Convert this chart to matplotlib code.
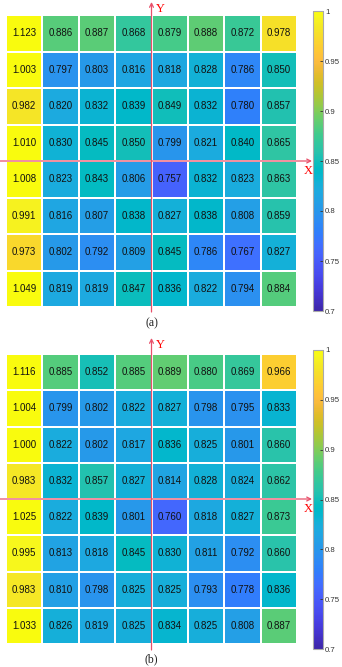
import numpy as np
import matplotlib
matplotlib.use("Agg")
import matplotlib.pyplot as plt
from matplotlib.colors import LinearSegmentedColormap

# ---------------- data ----------------
values_a = [
    [1.123, 0.886, 0.887, 0.868, 0.879, 0.888, 0.872, 0.978],
    [1.003, 0.797, 0.803, 0.816, 0.818, 0.828, 0.786, 0.850],
    [0.982, 0.820, 0.832, 0.839, 0.849, 0.832, 0.780, 0.857],
    [1.010, 0.830, 0.845, 0.850, 0.799, 0.821, 0.840, 0.865],
    [1.008, 0.823, 0.843, 0.806, 0.757, 0.832, 0.823, 0.863],
    [0.991, 0.816, 0.807, 0.838, 0.827, 0.838, 0.808, 0.859],
    [0.973, 0.802, 0.792, 0.809, 0.845, 0.786, 0.767, 0.827],
    [1.049, 0.819, 0.819, 0.847, 0.836, 0.822, 0.794, 0.884],
]
values_b = [
    [1.116, 0.885, 0.852, 0.885, 0.889, 0.880, 0.869, 0.966],
    [1.004, 0.799, 0.802, 0.822, 0.827, 0.798, 0.795, 0.833],
    [1.000, 0.822, 0.802, 0.817, 0.836, 0.825, 0.801, 0.860],
    [0.983, 0.832, 0.857, 0.827, 0.814, 0.828, 0.824, 0.862],
    [1.025, 0.822, 0.839, 0.801, 0.760, 0.818, 0.827, 0.873],
    [0.995, 0.813, 0.818, 0.845, 0.830, 0.811, 0.792, 0.860],
    [0.983, 0.810, 0.798, 0.825, 0.825, 0.793, 0.778, 0.836],
    [1.033, 0.826, 0.819, 0.825, 0.834, 0.825, 0.808, 0.887],
]
captions = ["(a)", "(b)"]
cbar_ticks = [0.7, 0.75, 0.8, 0.85, 0.9, 0.95, 1.0]
cbar_ticklabels = ["0.7", "0.75", "0.8", "0.85", "0.9", "0.95", "1"]
vmin, vmax = 0.7, 1.0

# parula colormap
parula_data = [
    [0.2422, 0.1504, 0.6603], [0.2504, 0.1650, 0.7076], [0.2578, 0.1818, 0.7511],
    [0.2647, 0.1978, 0.7952], [0.2706, 0.2147, 0.8364], [0.2751, 0.2342, 0.8710],
    [0.2783, 0.2559, 0.8991], [0.2803, 0.2782, 0.9221], [0.2813, 0.3006, 0.9414],
    [0.2810, 0.3228, 0.9579], [0.2795, 0.3447, 0.9717], [0.2760, 0.3667, 0.9829],
    [0.2699, 0.3892, 0.9906], [0.2602, 0.4123, 0.9952], [0.2440, 0.4358, 0.9988],
    [0.2206, 0.4603, 0.9973], [0.1963, 0.4847, 0.9892], [0.1834, 0.5074, 0.9798],
    [0.1786, 0.5289, 0.9682], [0.1764, 0.5499, 0.9520], [0.1687, 0.5703, 0.9359],
    [0.1540, 0.5902, 0.9218], [0.1460, 0.6091, 0.9079], [0.1380, 0.6276, 0.8973],
    [0.1248, 0.6459, 0.8883], [0.1113, 0.6635, 0.8763], [0.0952, 0.6798, 0.8598],
    [0.0689, 0.6948, 0.8394], [0.0297, 0.7082, 0.8163], [0.0036, 0.7203, 0.7917],
    [0.0067, 0.7312, 0.7660], [0.0433, 0.7411, 0.7394], [0.0964, 0.7500, 0.7120],
    [0.1408, 0.7584, 0.6842], [0.1717, 0.7670, 0.6554], [0.1938, 0.7758, 0.6251],
    [0.2161, 0.7843, 0.5923], [0.2470, 0.7918, 0.5567], [0.2906, 0.7973, 0.5188],
    [0.3406, 0.8008, 0.4789], [0.3909, 0.8029, 0.4354], [0.4456, 0.8024, 0.3909],
    [0.5044, 0.7993, 0.3480], [0.5616, 0.7942, 0.3045], [0.6174, 0.7876, 0.2612],
    [0.6720, 0.7793, 0.2227], [0.7242, 0.7698, 0.1910], [0.7738, 0.7598, 0.1646],
    [0.8203, 0.7498, 0.1535], [0.8634, 0.7406, 0.1596], [0.9035, 0.7330, 0.1774],
    [0.9393, 0.7288, 0.2100], [0.9728, 0.7298, 0.2394], [0.9956, 0.7434, 0.2371],
    [0.9970, 0.7659, 0.2199], [0.9952, 0.7893, 0.2028], [0.9892, 0.8136, 0.1885],
    [0.9813, 0.8386, 0.1760], [0.9697, 0.8639, 0.1649], [0.9628, 0.8901, 0.1525],
    [0.9608, 0.9161, 0.1418], [0.9626, 0.9419, 0.1279], [0.9694, 0.9666, 0.1089],
    [0.9763, 0.9831, 0.0538],
]
parula = LinearSegmentedColormap.from_list("parula", parula_data, N=256)
parula.set_over(parula_data[-1])

# ---------------- figure ----------------
W, H = 342, 667
fig = plt.figure(figsize=(W / 100, H / 100), dpi=100)
plt.rcParams['font.family'] = ['Liberation Sans', 'DejaVu Sans']

def fx(x):
    return x / W

def fy(y):
    return 1 - y / H

red = "#e8506a"

panels = [
    dict(data=values_a, grid=(6, 15, 297, 307), cbar=(313, 11, 323, 311),
         yarrow=(2, 312), xarrow=(0, 312), cap_y=323),
    dict(data=values_b, grid=(6, 354, 297, 644), cbar=(313, 350, 323, 649),
         yarrow=(338, 650), xarrow=(0, 312), cap_y=659),
]

overlay = fig.add_axes([0, 0, 1, 1], zorder=10)
overlay.set_xlim(0, W)
overlay.set_ylim(H, 0)
overlay.axis("off")
overlay.patch.set_alpha(0)

for p, cap in zip(panels, captions):
    data = np.array(p["data"])
    x0, y0, x1, y1 = p["grid"]
    ax = fig.add_axes([fx(x0), fy(y1), fx(x1 - x0), (y1 - y0) / H])
    mesh = ax.pcolormesh(data, cmap=parula, vmin=vmin, vmax=vmax,
                         edgecolors="white", linewidth=1.2)
    ax.set_xlim(0, data.shape[1])
    ax.set_ylim(data.shape[0], 0)
    ax.axis("off")
    for i in range(data.shape[0]):
        for j in range(data.shape[1]):
            ax.text(j + 0.5, i + 0.5, f"{data[i, j]:.3f}", ha="center",
                    va="center", fontsize=7, color="#111111")

    cx0, cy0, cx1, cy1 = p["cbar"]
    cax = fig.add_axes([fx(cx0), fy(cy1), fx(cx1 - cx0), (cy1 - cy0) / H])
    cb = fig.colorbar(mesh, cax=cax)
    cb.set_ticks(cbar_ticks)
    cb.set_ticklabels(cbar_ticklabels)
    cb.outline.set_edgecolor("#aaaaaa")
    cb.outline.set_linewidth(0.8)
    cax.tick_params(direction="in", length=2.5, width=0.6, labelsize=5.6,
                    colors="#333333", pad=1.5)

    # red coordinate axes
    gxm = (x0 + x1) / 2
    gym = (y0 + y1) / 2
    ya, yb = p["yarrow"]
    overlay.annotate("", xy=(gxm, ya), xytext=(gxm, yb),
                     arrowprops=dict(arrowstyle="->", color=red, lw=0.9,
                                     shrinkA=0, shrinkB=0, mutation_scale=7))
    xa, xb = p["xarrow"]
    overlay.annotate("", xy=(xb, gym), xytext=(xa, gym),
                     arrowprops=dict(arrowstyle="->", color=red, lw=0.9,
                                     shrinkA=0, shrinkB=0, mutation_scale=7))
    overlay.text(gxm + 4, ya + 7, "Y", color="red", fontsize=9,
                 family=["Liberation Serif", "DejaVu Serif"], ha="left", va="center")
    overlay.text(xb - 8, gym + 10, "X", color="red", fontsize=9,
                 family=["Liberation Serif", "DejaVu Serif"], ha="left", va="center")
    overlay.text(gxm, p["cap_y"], cap, fontsize=8.5, ha="center", va="center",
                 family=["Liberation Serif", "DejaVu Serif"], color="#222222")

fig.savefig("out.png", dpi=100)
